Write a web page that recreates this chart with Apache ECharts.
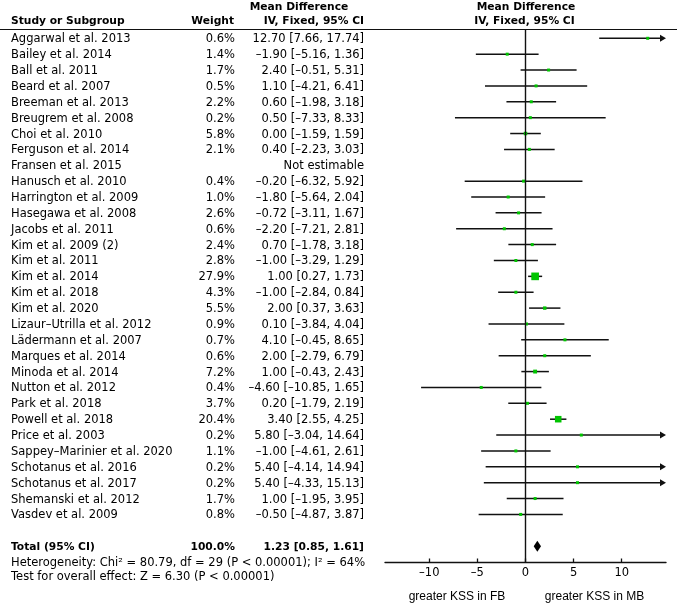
<!DOCTYPE html>
<html>
<head>
<meta charset="utf-8">
<script src="https://cdn.jsdelivr.net/npm/echarts@6/dist/echarts.min.js"></script>
<style>html,body{margin:0;padding:0;background:#fff;}#chart{width:677px;height:605px;}</style>
</head>
<body>
<div id="chart"></div>
<script>
const studyNames = ["Aggarwal et al. 2013","Bailey et al. 2014","Ball et al. 2011","Beard et al. 2007","Breeman et al. 2013","Breugrem et al. 2008","Choi et al. 2010","Ferguson et al. 2014","Fransen et al. 2015","Hanusch et al. 2010","Harrington et al. 2009","Hasegawa et al. 2008","Jacobs et al. 2011","Kim et al. 2009 (2)","Kim et al. 2011","Kim et al. 2014","Kim et al. 2018","Kim et al. 2020","Lizaur–Utrilla et al. 2012","Lädermann et al. 2007","Marques et al. 2014","Minoda et al. 2014","Nutton et al. 2012","Park et al. 2018","Powell et al. 2018","Price et al. 2003","Sappey–Marinier et al. 2020","Schotanus et al. 2016","Schotanus et al. 2017","Shemanski et al. 2012","Vasdev et al. 2009"];
const weights = [0.6,1.4,1.7,0.5,2.2,0.2,5.8,2.1,null,0.4,1.0,2.6,0.6,2.4,2.8,27.9,4.3,5.5,0.9,0.7,0.6,7.2,0.4,3.7,20.4,0.2,1.1,0.2,0.2,1.7,0.8];
const meanDiff = [12.70,-1.90,2.40,1.10,0.60,0.50,0.00,0.40,null,-0.20,-1.80,-0.72,-2.20,0.70,-1.00,1.00,-1.00,2.00,0.10,4.10,2.00,1.00,-4.60,0.20,3.40,5.80,-1.00,5.40,5.40,1.00,-0.50];
const ciLow = [7.66,-5.16,-0.51,-4.21,-1.98,-7.33,-1.59,-2.23,null,-6.32,-5.64,-3.11,-7.21,-1.78,-3.29,0.27,-2.84,0.37,-3.84,-0.45,-2.79,-0.43,-10.85,-1.79,2.55,-3.04,-4.61,-4.14,-4.33,-1.95,-4.87];
const ciHigh = [17.74,1.36,5.31,6.41,3.18,8.33,1.59,3.03,null,5.92,2.04,1.67,2.81,3.18,1.29,1.73,0.84,3.63,4.04,8.65,6.79,2.43,1.65,2.19,4.25,14.64,2.61,14.94,15.13,3.95,3.87];
const totalLabel = "Total (95% CI)";
const totalWeight = 100.0;
const totalMD = 1.23, totalLow = 0.85, totalHigh = 1.61;
const heterogeneityText = "Heterogeneity: Chi² = 80.79, df = 29 (P < 0.00001); I² = 64%";
const overallText = "Test for overall effect: Z = 6.30 (P < 0.00001)";
const xTicks = [-10, -5, 0, 5, 10];
const xMin = -14.6, xMax = 14.6;
const totalRow = 32;

const FONT = "DejaVu Sans";
const FS = 11.5;
const FSB = 10.7;
const dash = s => String(s).replace(/-/g, "–");
const f2 = v => dash(v.toFixed(2));
const ciText = i => meanDiff[i] === null ? "Not estimable" : f2(meanDiff[i]) + " [" + f2(ciLow[i]) + ", " + f2(ciHigh[i]) + "]";

const rows = studyNames.map((n, i) => i);
const ciData = rows.filter(i => meanDiff[i] !== null).map(i => [meanDiff[i], i, ciLow[i], ciHigh[i], weights[i]]);

function renderCI(params, api) {
  const md = api.value(0), row = api.value(1), lo = api.value(2), hi = api.value(3), w = api.value(4);
  const y = api.coord([0, row])[1];
  const loC = Math.max(lo, xMin), hiC = Math.min(hi, xMax);
  const x1 = api.coord([loC, row])[0], x2 = api.coord([hiC, row])[0];
  const children = [];
  const lineColor = "#111";
  const lw = 1.5;
  if (hi > xMax) {
    children.push({type: "line", shape: {x1: x1, y1: y, x2: x2 - 5, y2: y}, style: {stroke: lineColor, lineWidth: lw}});
    children.push({type: "polygon", shape: {points: [[x2, y], [x2 - 6, y - 3.5], [x2 - 6, y + 3.5]]}, style: {fill: lineColor}});
  } else if (lo < xMin) {
    children.push({type: "line", shape: {x1: x1 + 5, y1: y, x2: x2, y2: y}, style: {stroke: lineColor, lineWidth: lw}});
    children.push({type: "polygon", shape: {points: [[x1, y], [x1 + 6, y - 3.5], [x1 + 6, y + 3.5]]}, style: {fill: lineColor}});
  } else {
    children.push({type: "line", shape: {x1: x1, y1: y, x2: x2, y2: y}, style: {stroke: lineColor, lineWidth: lw}});
  }
  const s = Math.max(3, 1.45 * Math.sqrt(w));
  const cx = api.coord([md, row])[0];
  children.push({type: "rect", shape: {x: cx - s / 2, y: y - s / 2, width: s, height: s}, style: {fill: "#00c400"}});
  return {type: "group", children: children};
}

function renderDiamond(params, api) {
  const md = api.value(0), row = api.value(1), lo = api.value(2), hi = api.value(3);
  const y = api.coord([0, row])[1];
  const xl = api.coord([lo, row])[0], xm = api.coord([md, row])[0], xh = api.coord([hi, row])[0];
  return {type: "polygon", shape: {points: [[xl, y], [xm, y - 5.5], [xh, y], [xm, y + 5.5]]}, style: {fill: "#000"}};
}

const textData = rows.map(i => [0, i]).concat([[0, totalRow]]);
function renderText(params, api) {
  const row = api.value(1);
  const y = api.coord([0, row])[1] + 1;
  const idx = params.dataIndex;
  const isTotal = row === totalRow;
  const name = isTotal ? totalLabel : studyNames[idx];
  const wt = isTotal ? totalWeight.toFixed(1) + "%" : (weights[idx] === null ? "" : weights[idx].toFixed(1) + "%");
  const ci = isTotal ? f2(totalMD) + " [" + f2(totalLow) + ", " + f2(totalHigh) + "]" : ciText(idx);
  const font = isTotal ? "bold " + FSB + "px '" + FONT + "'" : FS + "px '" + FONT + "'";
  const st = (txt, x, align) => ({type: "text", x: x, y: y, style: {text: txt, fill: "#000", font: font, align: align, verticalAlign: "middle"}});
  return {type: "group", children: [st(name, 11, "left"), st(wt, 235, "right"), st(ci, 364, "right")]};
}

const hdrFont = "bold " + FSB + "px '" + FONT + "'";
const chart = echarts.init(document.getElementById("chart"), null, {renderer: "canvas"});
chart.setOption({
  backgroundColor: "#fff",
  animation: false,
  grid: {left: 385, right: 11, top: 29, bottom: 42.5, containLabel: false},
  xAxis: {
    type: "value", min: xMin, max: xMax, position: "bottom",
    axisLine: {show: true, onZero: false, lineStyle: {color: "#111", width: 1.4}},
    axisTick: {show: true, inside: true, length: 4, customValues: xTicks, lineStyle: {color: "#111", width: 1.3}},
    axisLabel: {customValues: xTicks, formatter: v => dash(v), fontFamily: FONT, fontSize: FS, color: "#000", margin: 5},
    splitLine: {show: false}
  },
  yAxis: {type: "value", inverse: true, min: -0.586, max: 33.03, show: false},
  series: [
    {type: "custom", renderItem: renderCI, data: ciData, silent: true, clip: false,
     markLine: {silent: true, symbol: "none", label: {show: false}, lineStyle: {color: "#111", width: 1.4, type: "solid"}, data: [{xAxis: 0}]}},
    {type: "custom", renderItem: renderDiamond, data: [[totalMD, totalRow, totalLow, totalHigh]], silent: true},
    {type: "custom", renderItem: renderText, data: textData, silent: true, clip: false}
  ],
  graphic: [
    {type: "line", shape: {x1: 0, y1: 29.5, x2: 677, y2: 29.5}, style: {stroke: "#111", lineWidth: 1}},
    {type: "text", x: 299, y: 7, style: {text: "Mean Difference", font: hdrFont, fill: "#000", align: "center", verticalAlign: "middle"}},
    {type: "text", x: 11, y: 21, style: {text: "Study or Subgroup", font: hdrFont, fill: "#000", align: "left", verticalAlign: "middle"}},
    {type: "text", x: 234, y: 21, style: {text: "Weight", font: hdrFont, fill: "#000", align: "right", verticalAlign: "middle"}},
    {type: "text", x: 364, y: 21, style: {text: "IV, Fixed, 95% CI", font: hdrFont, fill: "#000", align: "right", verticalAlign: "middle"}},
    {type: "text", x: 526, y: 7, style: {text: "Mean Difference", font: hdrFont, fill: "#000", align: "center", verticalAlign: "middle"}},
    {type: "text", x: 524.5, y: 21, style: {text: "IV, Fixed, 95% CI", font: hdrFont, fill: "#000", align: "center", verticalAlign: "middle"}},
    {type: "text", x: 11, y: 563, style: {text: heterogeneityText, font: FS + "px '" + FONT + "'", fill: "#000", align: "left", verticalAlign: "middle"}},
    {type: "text", x: 11, y: 577, style: {text: overallText, font: FS + "px '" + FONT + "'", fill: "#000", align: "left", verticalAlign: "middle"}},
    {type: "text", x: 457, y: 597, style: {text: "greater KSS in FB", font: "12px 'Liberation Sans'", fill: "#000", align: "center", verticalAlign: "middle"}},
    {type: "text", x: 594.5, y: 597, style: {text: "greater KSS in MB", font: "12px 'Liberation Sans'", fill: "#000", align: "center", verticalAlign: "middle"}}
  ]
});
</script>
</body>
</html>
